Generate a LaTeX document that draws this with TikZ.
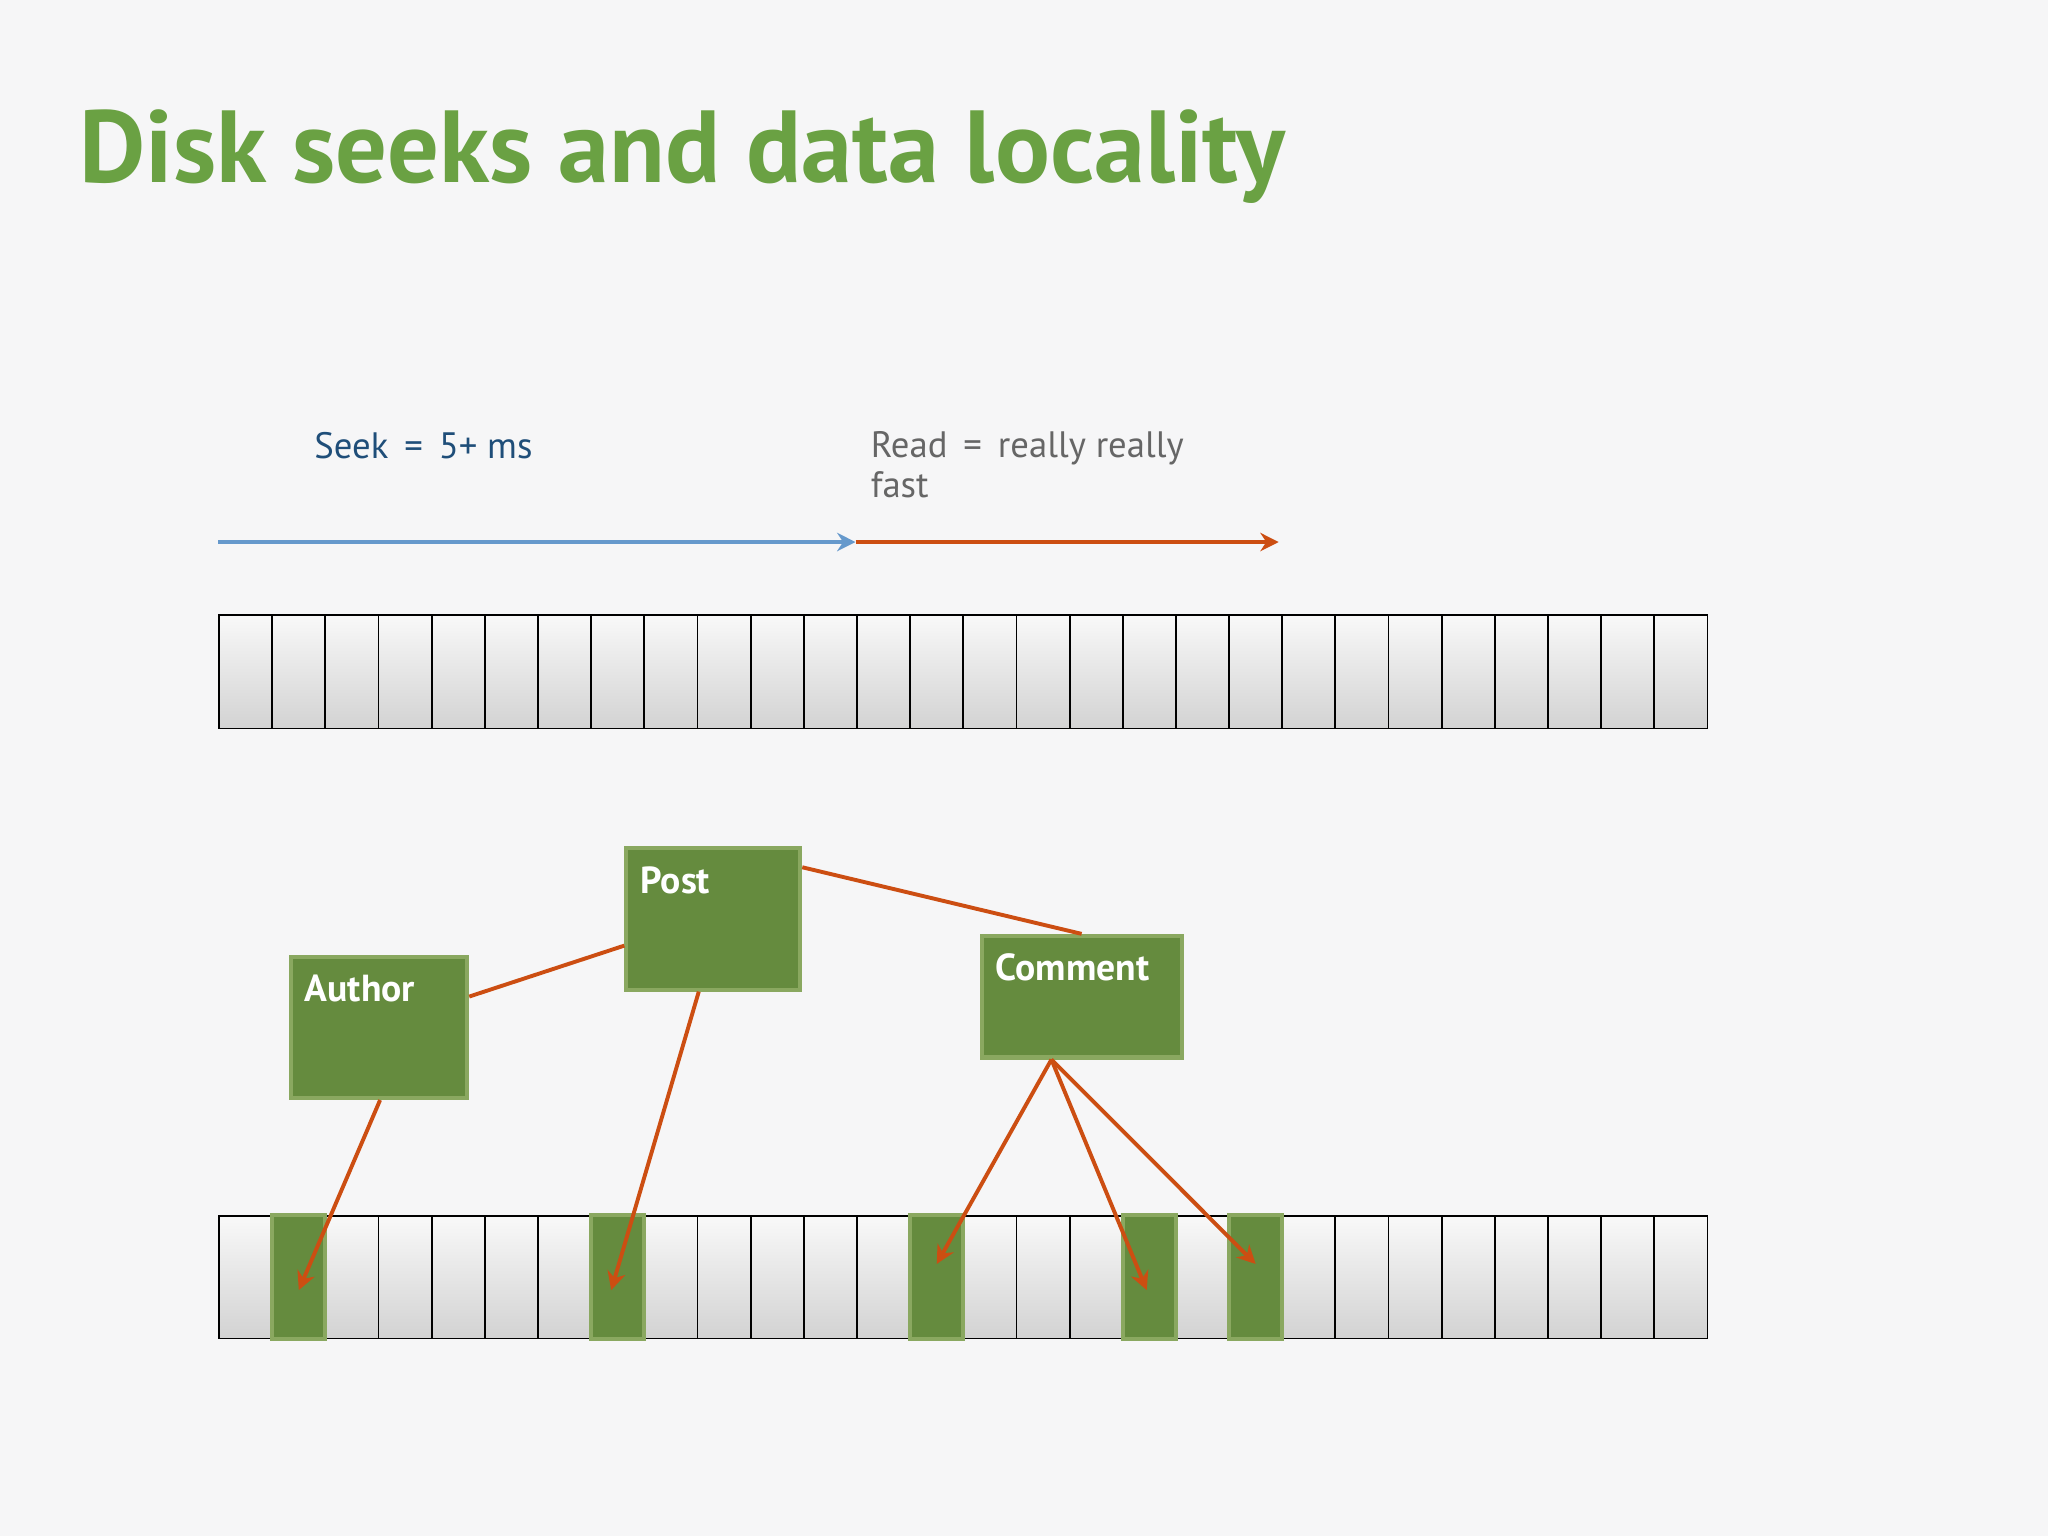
\documentclass[tikz,border=0pt]{standalone}
\usepackage{fontspec}
\setmainfont{PT Sans}
\usetikzlibrary{positioning,arrows.meta}
\definecolor{titlegreen}{HTML}{6AA143}
\definecolor{boxgreen}{HTML}{658B3E}
\definecolor{boxedge}{HTML}{8AA860}
\definecolor{seekblue}{HTML}{6699CC}
\definecolor{readorange}{HTML}{CC4E12}
\definecolor{seektext}{HTML}{1F4E79}
\definecolor{bg}{HTML}{F6F6F7}
\tikzset{
  cell/.style={draw=black, line width=0.4pt, minimum width=0.407cm, minimum height=#1,
    inner sep=0pt, top color=gray!5, bottom color=gray!35},
  hit/.style={draw=boxedge, line width=0.9pt, fill=boxgreen, minimum width=0.407cm,
    minimum height=0.95cm, inner sep=0pt},
  record/.style={draw=boxedge, line width=0.9pt, fill=boxgreen, inner sep=0pt},
  rlabel/.style={text=white, font=\fontsize{8.2}{10}\selectfont\bfseries, anchor=north west},
  link/.style={readorange, line width=0.85pt},
  ptr/.style={link, -{Stealth[length=4pt,width=4pt]}},
}
\begin{document}
\begin{tikzpicture}[x=0.01cm,y=-0.01cm]
  \fill[bg] (0,0) rectangle (1568,1176);
  \useasboundingbox (0,0) rectangle (1568,1176);

  % title
  \node[anchor=base west, text=titlegreen, inner sep=0pt,
    font=\fontsize{22.3}{26}\selectfont\bfseries] (title) at (60,140) {Disk seeks and data locality};

  % seek / read arrows
  \coordinate (s0) at (167,415);
  \coordinate (s1) at (655,415);
  \coordinate (s2) at (979,415);
  \draw[seekblue, line width=0.85pt, -{Stealth[length=4pt,width=4pt]}] (s0) -- (s1);
  \draw[readorange, line width=0.85pt, -{Stealth[length=4pt,width=4pt]}] (s1) -- (s2);
  \node[anchor=base west, text=seektext, inner sep=0pt, font=\fontsize{8}{9}\selectfont]
    (seek) at (240,351) {Seek\, =\, 5+ ms};
  \node[anchor=north west, text=gray!80!black, inner sep=0pt, align=left,
    font=\fontsize{8}{8.6}\selectfont] (read) at (666,330) {Read\, =\, really really\\fast};

  % disk strips
  \foreach \i in {0,...,27} {
    \node[cell=0.87cm, anchor=north west] (t\i) at ({167+40.7*\i},470) {};
    \node[cell=0.94cm, anchor=north west] (b\i) at ({167+40.7*\i},930) {};
  }
  \foreach \i in {1,7,13,17,19}
    \node[hit] (h\i) at (b\i) {};

  % records
  \node[record, minimum width=1.35cm, minimum height=1.08cm, anchor=north west] (author) at (221,731) {};
  \node[record, minimum width=1.33cm, minimum height=1.08cm, anchor=north west] (post) at (478,648) {};
  \node[record, minimum width=1.53cm, minimum height=0.93cm, anchor=north west] (comment) at (750,715) {};
  \node[rlabel] at ([shift={(0,3)}]author.north west) {Author};
  \node[rlabel] at ([shift={(0,3)}]post.north west) {Post};
  \node[rlabel] at ([shift={(0,3)}]comment.north west) {Comment};

  \draw[link] (author.east |- 0,763) -- (post.west |- 0,724);
  \draw[link] (post.east |- 0,664) -- (comment.north);
  \draw[ptr] (author.south -| 291,0) -- ([shift={(0,10)}]h1.center);
  \draw[ptr] (post.south -| 535,0) -- ([shift={(-5,10)}]h7.center);
  \draw[ptr] (comment.south -| 805,0) -- ([shift={(0,-10)}]h13.center);
  \draw[ptr] (comment.south -| 805,0) -- ([shift={(-2,10)}]h17.center);
  \draw[ptr] (comment.south -| 805,0) -- ([shift={(0,-10)}]h19.center);
\end{tikzpicture}
\end{document}
